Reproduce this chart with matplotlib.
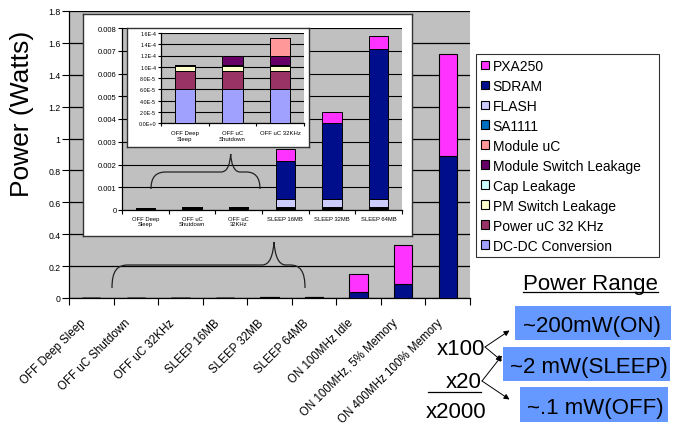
import matplotlib
matplotlib.use("Agg")
import matplotlib.pyplot as plt
import numpy as np
from matplotlib.patches import Rectangle, Patch, PathPatch
from matplotlib.path import Path
from matplotlib.transforms import ScaledTranslation

plt.rcParams['font.family'] = ['Liberation Sans', 'DejaVu Sans']

# ---------------- data ----------------
categories = ["OFF Deep Sleep", "OFF uC Shutdown", "OFF uC 32KHz", "SLEEP 16MB",
              "SLEEP 32MB", "SLEEP 64MB", "ON 100MHz Idle",
              "ON 100MHz, 5% Memory", "ON 400MHz 100% Memory"]
mid_labels = ["OFF Deep\nSleep", "OFF uC\nShutdown", "OFF uC\n32KHz",
              "SLEEP 16MB", "SLEEP 32MB", "SLEEP 64MB"]
inner_labels = ["OFF Deep\nSleep", "OFF uC\nShutdown", "OFF uC 32KHz"]

# components, bottom to top (Watts)
dcdc          = [6.0e-5, 6.0e-5, 6.0e-5, 6.0e-5, 6.0e-5, 6.0e-5, 6.0e-5, 6.0e-5, 6.0e-5]
power_uc      = [3.3e-5, 3.3e-5, 3.3e-5, 3.3e-5, 3.3e-5, 3.3e-5, 3.3e-5, 3.3e-5, 3.3e-5]
pm_switch     = [0.9e-5, 0.9e-5, 0.9e-5, 0.9e-5, 0.9e-5, 0.9e-5, 0.9e-5, 0.9e-5, 0.9e-5]
cap_leak      = [0.1e-5, 0.1e-5, 0.1e-5, 0.1e-5, 0.1e-5, 0.1e-5, 0.1e-5, 0.1e-5, 0.1e-5]
module_switch = [0.0, 1.6e-5, 1.6e-5, 1.6e-5, 1.6e-5, 1.6e-5, 1.6e-5, 1.6e-5, 1.6e-5]
module_uc     = [0.0, 0.0, 3.2e-5, 3.2e-5, 3.2e-5, 3.2e-5, 3.2e-5, 3.2e-5, 3.2e-5]
sa1111        = [0.0, 0.0, 0.0, 0.0, 0.0, 0.0, 0.0, 0.0, 0.0]
flash         = [0.0, 0.0, 0.0, 3.3e-4, 3.3e-4, 3.3e-4, 3.3e-4, 3.3e-4, 3.3e-4]
sdram         = [0.0, 0.0, 0.0, 0.00167, 0.00334, 0.00661, 0.040, 0.087, 0.892]
pxa250        = [0.0, 0.0, 0.0, 0.00051, 0.00048, 0.00055, 0.109, 0.246, 0.639]

series = [
    ("DC-DC Conversion", dcdc, "#A0A0FF"),
    ("Power uC 32 KHz", power_uc, "#993366"),
    ("PM Switch Leakage", pm_switch, "#FFFFCC"),
    ("Cap Leakage", cap_leak, "#CCFFFF"),
    ("Module Switch Leakage", module_switch, "#660066"),
    ("Module uC", module_uc, "#FF9999"),
    ("SA1111", sa1111, "#0070C0"),
    ("FLASH", flash, "#CCCCFF"),
    ("SDRAM", sdram, "#000E8C"),
    ("PXA250", pxa250, "#FF33FF"),
]

main_yticks = [0, 0.2, 0.4, 0.6, 0.8, 1.0, 1.2, 1.4, 1.6, 1.8]
main_ylabels = ["0", "0.2", "0.4", "0.6", "0.8", "1", "1.2", "1.4", "1.6", "1.8"]
mid_yticks = [0, 0.001, 0.002, 0.003, 0.004, 0.005, 0.006, 0.007, 0.008]
mid_ylabels = ["0", "0.001", "0.002", "0.003", "0.004", "0.005", "0.006", "0.007", "0.008"]
inner_yticks = [0, 2e-5, 4e-5, 6e-5, 8e-5, 1.0e-4, 1.2e-4, 1.4e-4, 1.6e-4]
inner_ylabels = ["0.0E+0", "2.0E-5", "4.0E-5", "6.0E-5", "8.0E-5", "1.0E-4",
                 "1.2E-4", "1.4E-4", "1.6E-4"]

W, H = 680, 427
fig = plt.figure(figsize=(W / 100, H / 100), dpi=100)
fig.patch.set_facecolor("white")


def rect(l, t, r, b):
    return [l / W, 1 - b / H, (r - l) / W, (b - t) / H]


BG = "#C0C0C0"


def draw_stack(ax, n, width, lw):
    x = np.arange(n)
    bottom = np.zeros(n)
    for name, vals, col in series:
        v = np.array(vals[:n])
        ax.bar(x, v, width, bottom=bottom, color=col, edgecolor="black",
               linewidth=lw, zorder=3)
        bottom += v


def style_axes(ax, n, yticks, ylabels, xlabels, ylim, yfs, xfs, tlen, grid_lw):
    ax.set_facecolor(BG)
    ax.set_xlim(-0.5, n - 0.5)
    ax.set_ylim(*ylim)
    ax.set_yticks(yticks)
    ax.set_yticklabels(ylabels, fontsize=yfs)
    ax.yaxis.grid(True, color="black", linewidth=grid_lw, zorder=1)
    ax.set_axisbelow(True)
    ax.set_xticks(np.arange(n + 1) - 0.5)
    ax.set_xticklabels([])
    ax.set_xticks(np.arange(n), minor=True)
    ax.set_xticklabels(xlabels, minor=True, fontsize=xfs)
    ax.tick_params(axis="x", which="minor", length=0)
    ax.tick_params(axis="x", which="major", length=tlen, width=0.8)
    ax.tick_params(axis="y", length=tlen, width=0.8, pad=1)
    for s in ["top", "right"]:
        ax.spines[s].set_visible(False)
    for s in ["left", "bottom"]:
        ax.spines[s].set_linewidth(0.9)


# ---------------- main axes ----------------
ax = fig.add_axes(rect(69, 12, 470, 299))
draw_stack(ax, 9, 0.41, 0.8)
style_axes(ax, 9, main_yticks, main_ylabels, [], (0, 1.8), 6.3, 8, 5, 0.9)
ax.set_xticklabels(categories, minor=True, fontsize=8.3, rotation=45,
                   ha="right", rotation_mode="anchor")
ax.tick_params(axis="x", which="minor", pad=4)
shift = ScaledTranslation(-0.115, -0.13, fig.dpi_scale_trans)
for lab in ax.get_xticklabels(minor=True):
    lab.set_transform(lab.get_transform() + shift)

# ---------------- middle inset ----------------
box1 = fig.add_axes(rect(83, 15, 412, 237))
box1.set_xticks([]); box1.set_yticks([])
box1.set_facecolor("white")
for s in box1.spines.values():
    s.set_linewidth(1.0)
    s.set_edgecolor("#333333")

ax2 = fig.add_axes(rect(122, 29, 402, 211))
draw_stack(ax2, 6, 0.41, 0.7)
style_axes(ax2, 6, mid_yticks, mid_ylabels, mid_labels, (0, 0.008), 5.5, 4.2, 3, 0.8)
ax2.tick_params(axis="x", which="minor", pad=4)

# ---------------- inner inset ----------------
box2 = fig.add_axes(rect(127, 29, 309, 148))
box2.set_xticks([]); box2.set_yticks([])
box2.set_facecolor("white")
for s in box2.spines.values():
    s.set_linewidth(1.0)
    s.set_edgecolor("#333333")

ax3 = fig.add_axes(rect(161, 34, 304, 124))
draw_stack(ax3, 3, 0.42, 0.7)
style_axes(ax3, 3, inner_yticks, inner_ylabels, inner_labels, (0, 1.6e-4), 3.9, 4.3, 2.5, 0.8)
ax3.tick_params(axis="x", which="minor", pad=5)

# ---------------- overlay (pixel coordinates) ----------------
ov = fig.add_axes([0, 0, 1, 1], facecolor="none")
ov.set_xlim(0, W)
ov.set_ylim(H, 0)
ov.axis("off")


def brace(pts):
    verts = [pts[0]]
    codes = [Path.MOVETO]
    for seg in pts[1:]:
        if len(seg) == 3:
            verts += list(seg)
            codes += [Path.CURVE4] * 3
        else:
            verts.append(seg)
            codes.append(Path.LINETO)
    ov.add_patch(PathPatch(Path(verts, codes), facecolor="none",
                           edgecolor="#222222", linewidth=0.9))


# main brace
brace([(112, 289),
       ((112, 272), (117, 266), (128, 266)),
       (262, 266),
       ((270, 266), (273, 256), (274, 243)),
       ((275, 256), (278, 266), (286, 266)),
       (290, 266),
       ((300, 266), (305, 272), (305, 289))])
# middle brace
brace([(151, 190),
       ((151, 178), (156, 173), (166, 173)),
       (221, 173),
       ((228, 173), (230, 164), (230.7, 155)),
       ((231, 164), (234, 173), (240, 173)),
       (246, 173),
       ((255, 173), (260, 178), (260, 190))])

# y label
fig.text(22 / W, 1 - 113.5 / H, "Power (Watts)", rotation=90, fontsize=19,
         ha="center", va="center")

# legend
handles = [Patch(facecolor=c, edgecolor="black", linewidth=0.8, label=n)
           for n, v, c in reversed(series)]
leg = fig.legend(handles=handles, loc="upper left", mode="expand",
                 bbox_to_anchor=(476 / W, 1 - 255 / H, 183 / W, 200 / H),
                 borderaxespad=0,
                 fontsize=10, frameon=True, fancybox=False, handlelength=0.6,
                 handleheight=0.6, handletextpad=0.25, labelspacing=0.43,
                 borderpad=0.35)
leg.get_frame().set_edgecolor("black")
leg.get_frame().set_linewidth(0.8)

# power range annotation
ov.text(590, 290, "Power Range", fontsize=16, ha="center", va="baseline")
ov.plot([523, 658], [292.5, 292.5], color="black", lw=0.9)
BLUE = "#6699FF"
boxes = [((515, 307, 671, 341), "~200mW(ON)", 592, 332),
         ((503, 348, 670, 382), "~2 mW(SLEEP)", 589, 373),
         ((520, 388, 668, 423), "~.1 mW(OFF)", 595, 414)]
for (l, t, r, b), txt, cx, by in boxes:
    ov.add_patch(Rectangle((l, t), r - l, b - t, facecolor=BLUE, edgecolor="none"))
    ov.text(cx, by, txt, fontsize=16, ha="center", va="baseline")

ov.text(461, 355, "x100", fontsize=16, ha="center", va="baseline")
ov.text(464, 388, "x20", fontsize=16, ha="center", va="baseline")
ov.plot([428, 481], [393, 393], color="black", lw=0.9)
ov.text(456.5, 418, "x2000", fontsize=16, ha="center", va="baseline")

arrows = [((485, 348), (509.5, 331.5)), ((485, 348), (502, 362)),
          ((482, 382), (502, 356.5)), ((482, 382), (509.5, 400.5))]
for (x0, y0), (x1, y1) in arrows:
    ov.annotate("", xy=(x1, y1), xytext=(x0, y0),
                arrowprops=dict(arrowstyle="-|>", color="black", lw=0.7,
                                mutation_scale=8, shrinkA=0, shrinkB=0))

fig.savefig("out.png", dpi=100)
